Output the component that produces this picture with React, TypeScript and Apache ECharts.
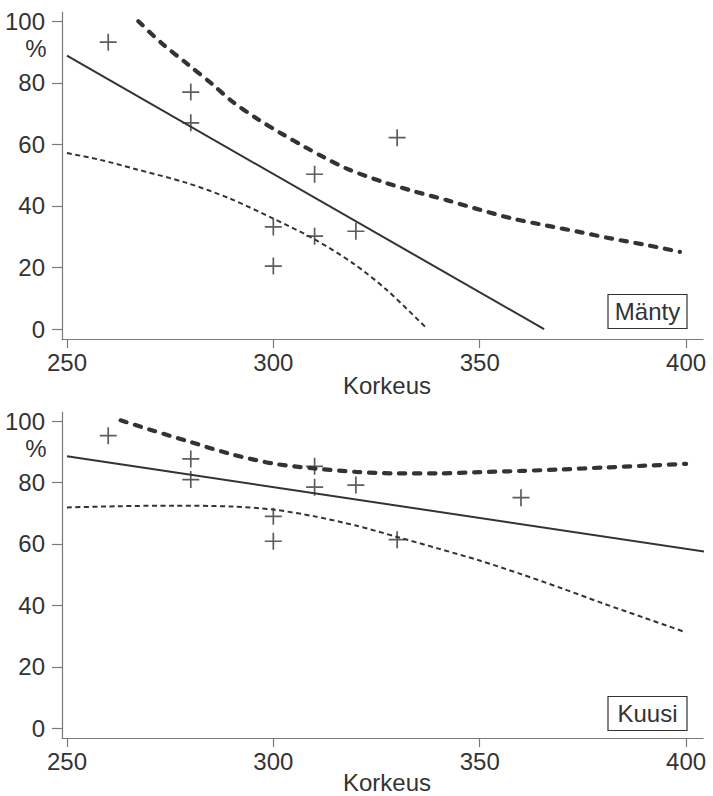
import React, { useEffect, useRef } from "react";
import * as echarts from "echarts";

const xTicks = [250, 300, 350, 400];
const yTicks = [0, 20, 40, 60, 80, 100];
const panelNames = ["Mänty", "Kuusi"];
const xTitle = "Korkeus";
const yTitle = "%";

// Mänty (top panel)
const mantyPtsX = [260, 280, 280, 300, 300, 310, 310, 320, 330];
const mantyPtsY = [93.2, 77, 67, 33.2, 20.5, 50.3, 30.2, 31.8, 62.2];
const mantyFitX = [250, 365.6];
const mantyFitY = [88.8, 0];
const mantyUpX = [267.3, 273, 279, 285, 290, 296, 302, 308, 312, 318, 326.6, 334, 342, 350, 358, 366, 374, 382, 390.5, 398.5];
const mantyUpY = [100, 92.8, 86.3, 79.8, 74, 68.4, 63.5, 58.9, 56, 52, 47.8, 44.8, 41.9, 38.8, 35.9, 33.7, 31.6, 29.4, 27.3, 25.1];
const mantyLoX = [250, 258, 266, 279, 289.5, 300, 309.7, 319.4, 327.5, 337.2];
const mantyLoY = [57.2, 55, 52.2, 47.5, 42.4, 35.9, 29.4, 21.3, 12.7, 0.2];

// Kuusi (bottom panel)
const kuusiPtsX = [260, 280, 280, 300, 300, 310, 310, 320, 330, 360];
const kuusiPtsY = [95.3, 87.7, 81, 69, 60.9, 85.3, 78.5, 79.2, 61.4, 75.1];
const kuusiFitX = [250, 406.5];
const kuusiFitY = [88.6, 57.1];
const kuusiUpX = [263, 270, 280, 290, 300, 310, 320, 330, 340, 350, 360, 370, 380, 390, 400];
const kuusiUpY = [100.3, 97.3, 93.2, 89.2, 86.2, 84.6, 83.5, 83, 83, 83.4, 83.8, 84.3, 84.9, 85.5, 86.1];
const kuusiLoX = [250, 262, 276, 290, 300, 310, 320, 330, 340, 350, 360, 370, 380, 390, 400];
const kuusiLoY = [71.9, 72.3, 72.5, 72.2, 71.2, 69, 66, 62.3, 58.5, 54.6, 50.2, 45.5, 40.6, 35.9, 31.2];

const zip = (xs: number[], ys: number[]) => xs.map((x, i) => [x, ys[i]]);

const INK = "#333333";
const AXIS = "#7a7a7a";
const FONT = "'Liberation Sans', Arial, sans-serif";
const FS = 24;
const CROSS = "path://M0,7.2H16V8.8H0Z M7.2,0H8.8V16H7.2Z";

export default function App() {
  const ref = useRef<HTMLDivElement>(null);
  useEffect(() => {
    if (!ref.current) return;
    const chart = echarts.init(ref.current, null, { renderer: "svg" });
    const grids = [
      { left: 62, top: 12, width: 641, height: 327 },
      { left: 62, top: 412, width: 641, height: 326 },
    ];
    const xAxis = grids.map((_, i) => ({
      type: "value",
      gridIndex: i,
      min: 248.8,
      max: 404.1,
      axisLine: { show: true, onZero: false, lineStyle: { color: AXIS, width: 1.2 } },
      axisTick: { show: true, customValues: xTicks, length: 9, lineStyle: { color: AXIS, width: 1.2 } },
      axisLabel: { customValues: xTicks, margin: 11, color: INK, fontSize: FS, fontFamily: FONT },
      splitLine: { show: false },
    }));
    const yAxis = grids.map((_, i) => ({
      type: "value",
      gridIndex: i,
      min: -3.2,
      max: 103,
      axisLine: { show: true, onZero: false, lineStyle: { color: AXIS, width: 1.2 } },
      axisTick: { show: true, customValues: yTicks, length: 10, lineStyle: { color: AXIS, width: 1.2 } },
      axisLabel: { customValues: yTicks, margin: 17, color: INK, fontSize: FS, fontFamily: FONT },
      splitLine: { show: false },
    }));
    const panels = [
      { pts: zip(mantyPtsX, mantyPtsY), fit: zip(mantyFitX, mantyFitY), up: zip(mantyUpX, mantyUpY), lo: zip(mantyLoX, mantyLoY) },
      { pts: zip(kuusiPtsX, kuusiPtsY), fit: zip(kuusiFitX, kuusiFitY), up: zip(kuusiUpX, kuusiUpY), lo: zip(kuusiLoX, kuusiLoY) },
    ];
    const series: any[] = [];
    panels.forEach((p, i) => {
      series.push({
        type: "line", xAxisIndex: i, yAxisIndex: i, data: p.up, showSymbol: false, smooth: 0.3, clip: false,
        lineStyle: { color: INK, width: 4.2, type: [6.3, 8.7], cap: "round" },
      });
      series.push({
        type: "line", xAxisIndex: i, yAxisIndex: i, data: p.lo, showSymbol: false, smooth: 0.3, clip: false,
        lineStyle: { color: INK, width: 2, type: [5, 3.5] },
      });
      series.push({
        type: "line", xAxisIndex: i, yAxisIndex: i, data: p.fit, showSymbol: false, clip: false,
        lineStyle: { color: INK, width: 2 },
      });
      series.push({
        type: "scatter", xAxisIndex: i, yAxisIndex: i, data: p.pts, symbol: CROSS, symbolSize: 17,
        itemStyle: { color: INK },
      });
    });
    const graphic: any[] = [];
    [0, 400].forEach((dy, i) => {
      graphic.push({
        type: "text", x: 36, y: 48.5 + dy,
        style: { text: yTitle, fill: INK, font: `${FS}px ${FONT}`, align: "center", verticalAlign: "middle" },
      });
      graphic.push({
        type: "text", x: 387, y: 385.5 + dy - (i ? 3 : 0),
        style: { text: xTitle, fill: INK, font: `${FS}px ${FONT}`, lineHeight: 20, align: "center", verticalAlign: "middle" },
      });
      graphic.push({
        type: "rect", shape: { x: 608, y: 294.5 + dy + (i ? 2 : 0), width: 79, height: 34 },
        style: { fill: "#fff", stroke: INK, lineWidth: 1.2 },
      });
      graphic.push({
        type: "text", x: 647.5, y: 311.5 + dy + (i ? 2 : 0),
        style: { text: panelNames[i], fill: INK, font: `${FS}px ${FONT}`, align: "center", verticalAlign: "middle" },
      });
    });
    chart.setOption({
      animation: false,
      backgroundColor: "#ffffff",
      grid: grids,
      xAxis,
      yAxis,
      series,
      graphic,
    });
    return () => chart.dispose();
  }, []);
  return <div ref={ref} style={{ position: "absolute", left: 0, top: 0, width: 713, height: 796 }} />;
}
